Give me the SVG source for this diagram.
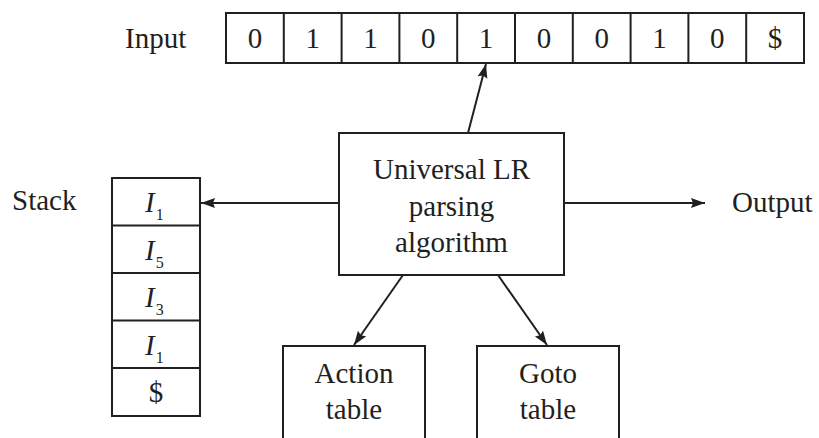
<svg xmlns="http://www.w3.org/2000/svg" width="819" height="438" viewBox="0 0 819 438">
<style>
  .box { fill: #fff; stroke: #231f20; stroke-width: 2; }
  .ln { fill: none; stroke: #231f20; stroke-width: 2; }
  .t { font-family: "Liberation Serif", "Times New Roman", serif; font-size: 29px; fill: #231f20; }
  .c { text-anchor: middle; }
  .it { font-style: italic; }
  .sub { font-style: normal; font-size: 16px; }
</style>
<defs>
  <marker id="arr" markerUnits="userSpaceOnUse" markerWidth="15" markerHeight="11" refX="14" refY="5" orient="auto">
    <path d="M0,0 L14,5 L0,10 L2,5 z" fill="#231f20"/>
  </marker>
</defs>
<rect width="819" height="438" fill="#fff"/>

<g id="input">
  <text class="t" x="125" y="48">Input</text>
  <rect class="box" x="226" y="13" width="578" height="50"/>
  <path class="ln" d="M283.8,13V63 M341.6,13V63 M399.4,13V63 M457.2,13V63 M515,13V63 M572.8,13V63 M630.6,13V63 M688.4,13V63 M746.2,13V63"/>
  <g class="t c">
    <text x="254.9" y="48">0</text>
    <text x="312.7" y="48">1</text>
    <text x="370.5" y="48">1</text>
    <text x="428.3" y="48">0</text>
    <text x="486.1" y="48">1</text>
    <text x="543.9" y="48">0</text>
    <text x="601.7" y="48">0</text>
    <text x="659.5" y="48">1</text>
    <text x="717.3" y="48">0</text>
    <text x="775.1" y="48">$</text>
  </g>
</g>

<g id="stack">
  <text class="t" x="12" y="210">Stack</text>
  <rect class="box" x="112" y="178" width="88" height="238"/>
  <path class="ln" d="M112,225.5H200 M112,273H200 M112,320.5H200 M112,368H200"/>
  <text class="t it" x="145" y="212">I<tspan class="sub" dx="1" dy="8">1</tspan></text>
  <text class="t it" x="145" y="259.5">I<tspan class="sub" dx="1" dy="8">5</tspan></text>
  <text class="t it" x="145" y="307">I<tspan class="sub" dx="1" dy="8">3</tspan></text>
  <text class="t it" x="145" y="354.5">I<tspan class="sub" dx="1" dy="8">1</tspan></text>
  <text class="t c" x="156" y="402">$</text>
</g>

<g id="parser">
  <rect class="box" x="339" y="133" width="225" height="142"/>
  <text class="t c" x="451.5" y="179">Universal LR</text>
  <text class="t c" x="451.5" y="215.5">parsing</text>
  <text class="t c" x="451.5" y="252">algorithm</text>
</g>

<g id="output">
  <text class="t" x="732" y="212">Output</text>
</g>

<g id="action">
  <rect class="box" x="283" y="346" width="142" height="110"/>
  <text class="t c" x="354" y="383">Action</text>
  <text class="t c" x="354" y="419">table</text>
</g>

<g id="goto">
  <rect class="box" x="477" y="346" width="142" height="110"/>
  <text class="t c" x="548" y="383">Goto</text>
  <text class="t c" x="548" y="419">table</text>
</g>

<g id="connectors">
  <line class="ln" x1="468" y1="133" x2="486" y2="64" marker-end="url(#arr)"/>
  <line class="ln" x1="339" y1="203" x2="201" y2="203" marker-end="url(#arr)"/>
  <line class="ln" x1="564" y1="203" x2="705" y2="203" marker-end="url(#arr)"/>
  <line class="ln" x1="403" y1="275" x2="354" y2="345" marker-end="url(#arr)"/>
  <line class="ln" x1="498" y1="275" x2="547" y2="345" marker-end="url(#arr)"/>
</g>
</svg>
